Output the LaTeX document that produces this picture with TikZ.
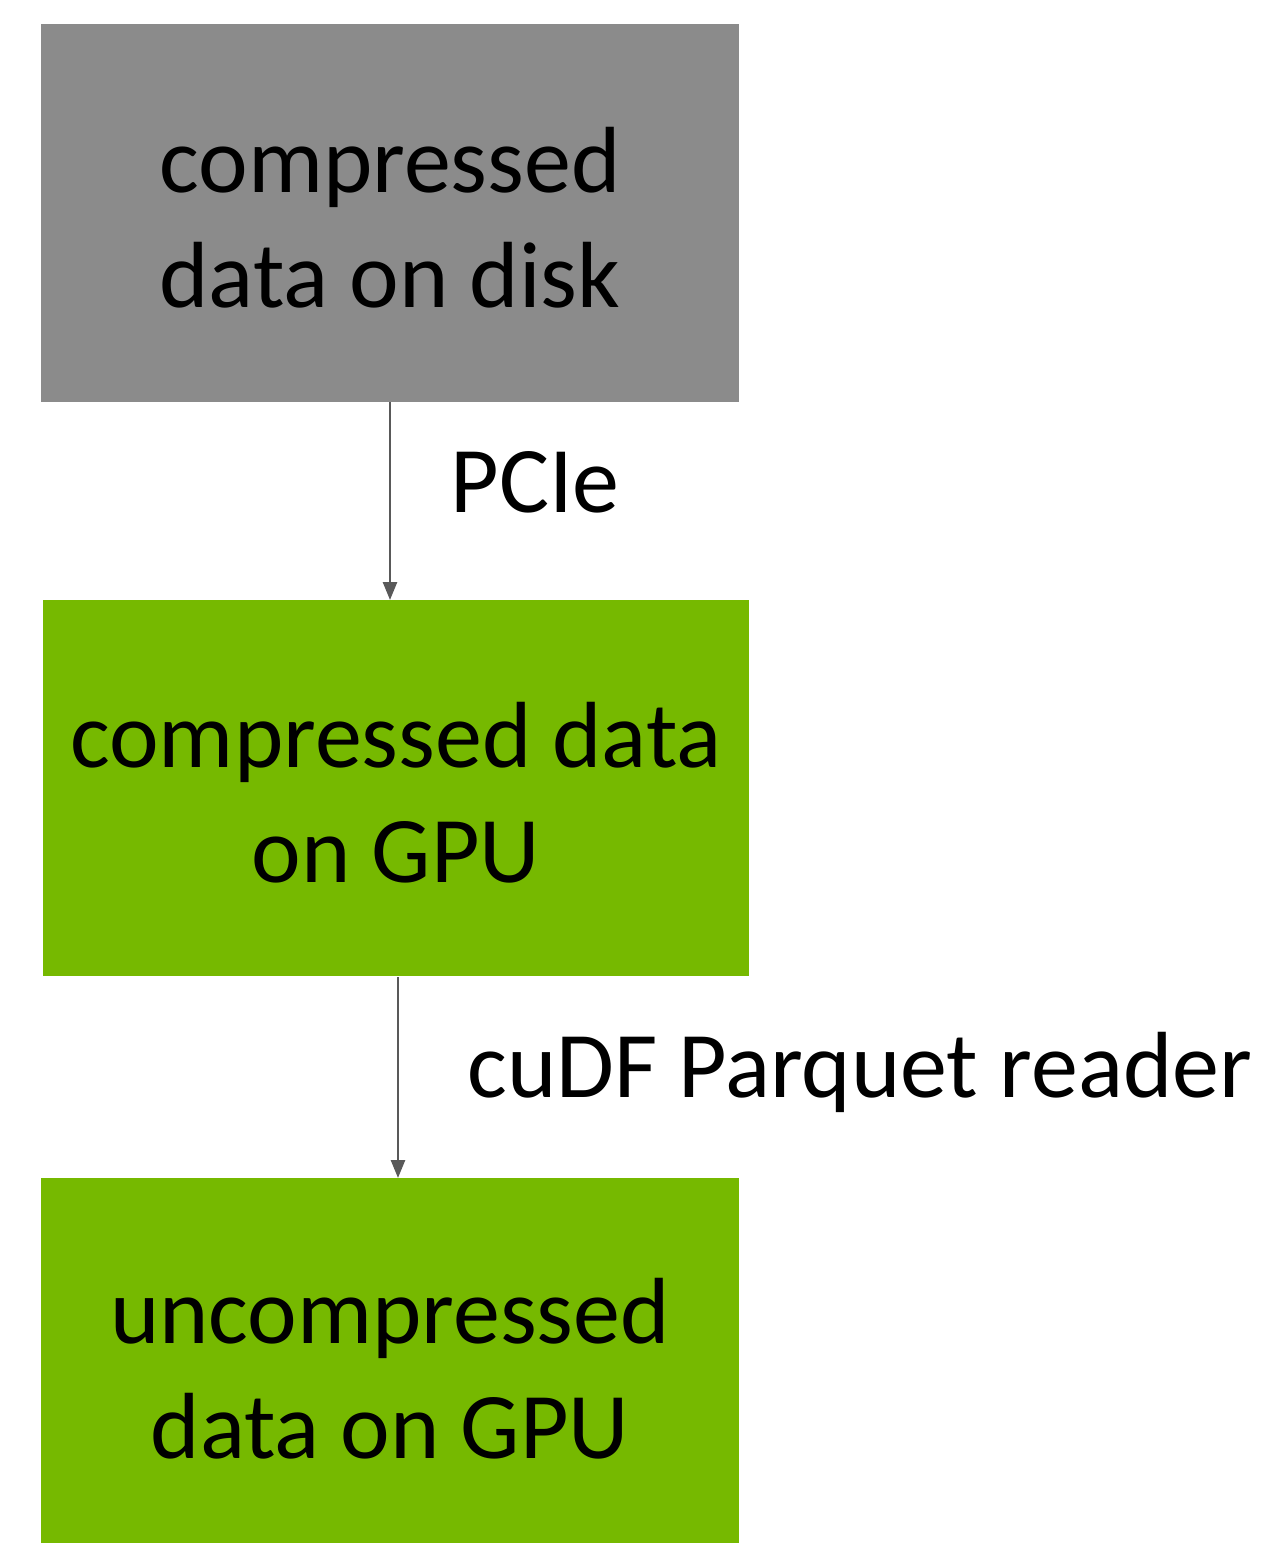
\documentclass[tikz,border=0pt]{standalone}
\usepackage{fontspec}
\setmainfont{Carlito}
\usetikzlibrary{arrows.meta}
\definecolor{diskgray}{HTML}{8B8B8B}
\definecolor{gpugreen}{HTML}{76B900}
\definecolor{linkgray}{HTML}{595959}
\tikzset{
  stage/.style={inner sep=0pt, outer sep=0pt, align=center,
    font=\fontsize{47}{57.5}\selectfont},
  flow/.style={draw=linkgray, line width=1.3pt,
    -{Triangle[width=7pt,length=9pt]}},
  flowlabel/.style={anchor=base west, inner sep=0pt,
    font=\fontsize{47}{57.5}\selectfont}
}
\begin{document}
\begin{tikzpicture}[x=0.5pt, y=-0.5pt]
  \useasboundingbox (0,0) rectangle (1269,1543);
  % stage boxes
  \fill[diskgray] (41,24) rectangle (739,402);
  \fill[gpugreen] (43,600) rectangle (749,976);
  \fill[gpugreen] (41,1178) rectangle (739,1543);
  \node[stage] (disk) at (390,218) {compressed\\data on disk};
  \node[stage] (gpuc) at (396,793) {compressed data\\on GPU};
  \node[stage] (gpuu) at (390,1369) {uncompressed\\data on GPU};
  % connector anchors on box edges
  \coordinate (d1) at (390,402);
  \coordinate (g1) at (390,600);
  \coordinate (g2) at (398,977);
  \coordinate (u1) at (398,1178);
  \draw[flow] (d1) -- (g1);
  \draw[flow] (g2) -- (u1);
  \node[flowlabel] (pcie) at (450,512) {PCIe};
  \node[flowlabel] (reader) at (467,1097) {cuDF Parquet reader};
\end{tikzpicture}
\end{document}
